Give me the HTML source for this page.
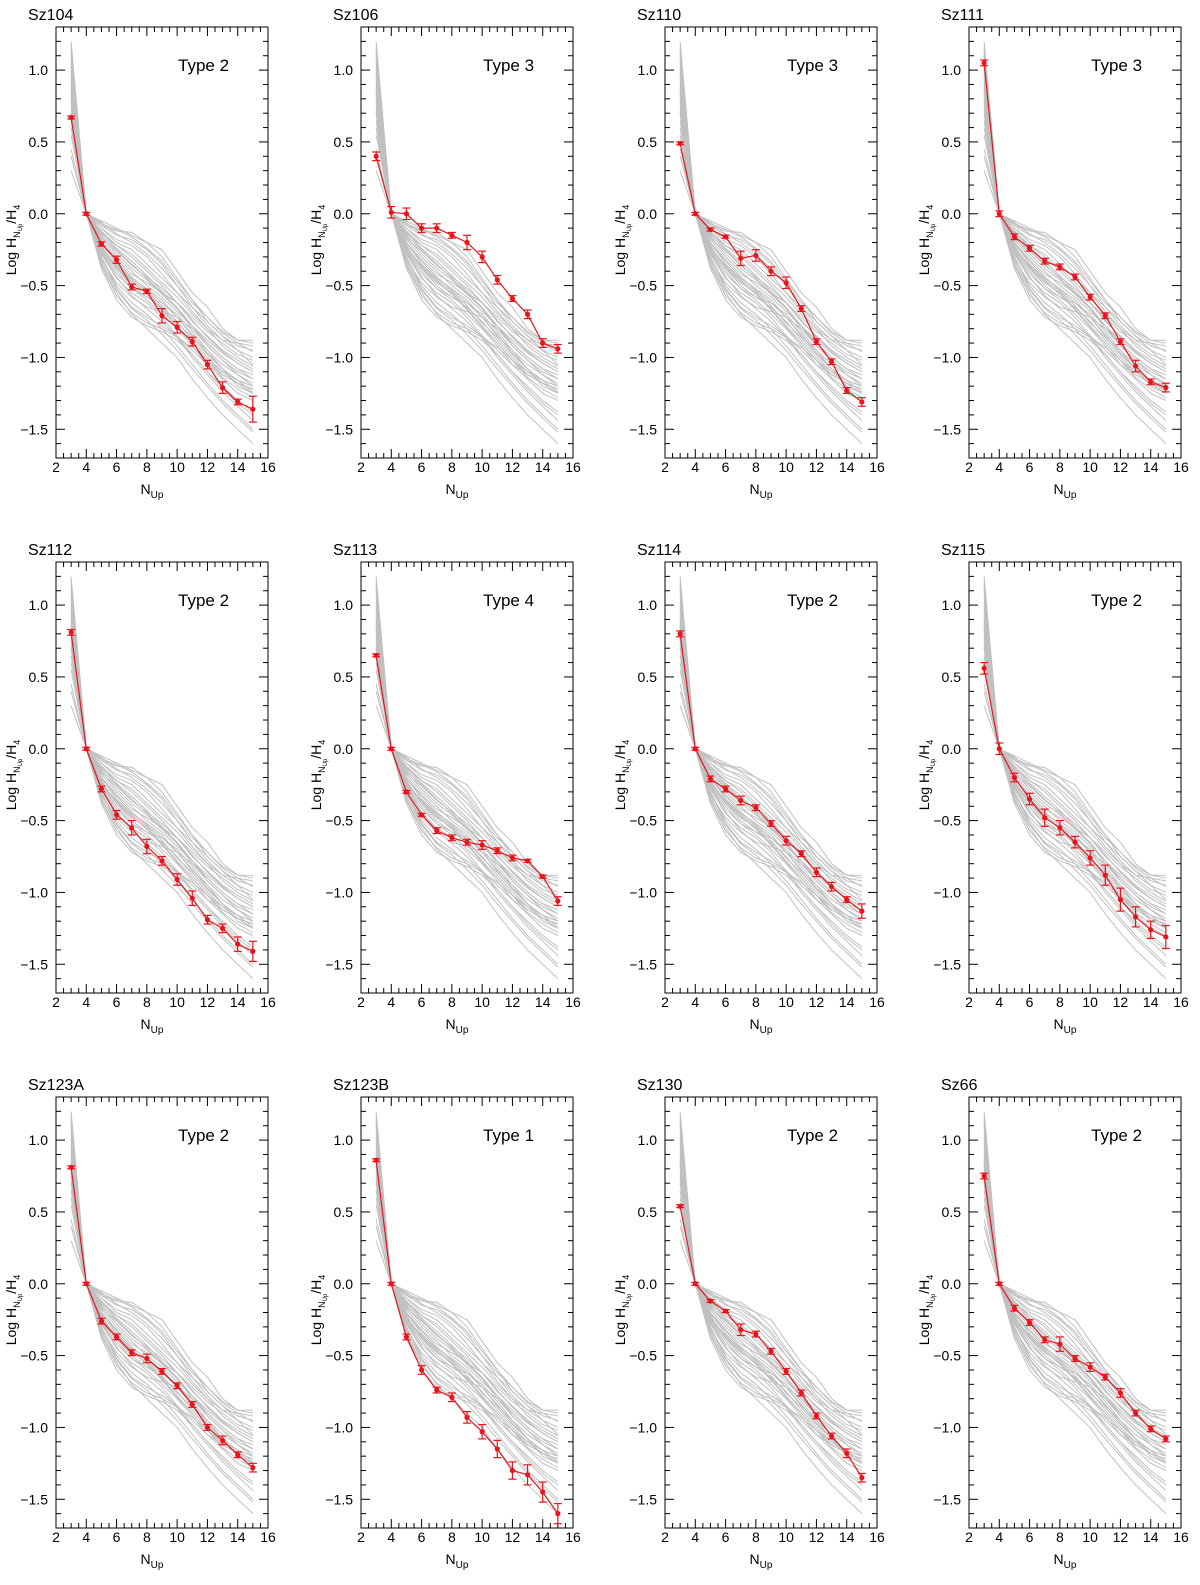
<!DOCTYPE html>
<html><head><meta charset="utf-8"><style>
html,body{margin:0;padding:0;background:#fff;}
svg{display:block;font-family:"Liberation Sans",Arial,sans-serif;}
</style></head><body>
<svg id="fig" width="1200" height="1585" viewBox="0 0 1200 1585" xmlns="http://www.w3.org/2000/svg"></svg>
<script>
// ---- data ----
const nUp = [3,4,5,6,7,8,9,10,11,12,13,14,15];
const xTickLabels = ["2","4","6","8","10","12","14","16"];
const yTickValues = [1.0,0.5,0.0,-0.5,-1.0,-1.5];
const yTickLabels = ["1.0","0.5","0.0","\u22120.5","\u22121.0","\u22121.5"];
const panelNames = ["Sz104","Sz106","Sz110","Sz111","Sz112","Sz113","Sz114","Sz115","Sz123A","Sz123B","Sz130","Sz66"];
const panelTypes = ["Type 2","Type 3","Type 3","Type 3","Type 2","Type 4","Type 2","Type 2","Type 2","Type 1","Type 2","Type 2"];
const sz104 = [0.67,0,-0.21,-0.32,-0.51,-0.54,-0.71,-0.79,-0.89,-1.05,-1.21,-1.31,-1.36];
const sz104Err = [0.01,0.01,0.015,0.025,0.02,0.015,0.05,0.04,0.03,0.03,0.04,0.02,0.09];
const sz106 = [0.40,0.01,0.0,-0.10,-0.10,-0.15,-0.20,-0.30,-0.46,-0.59,-0.70,-0.90,-0.94];
const sz106Err = [0.03,0.04,0.04,0.03,0.03,0.02,0.05,0.04,0.03,0.02,0.03,0.03,0.03];
const sz110 = [0.49,0,-0.11,-0.16,-0.31,-0.29,-0.40,-0.48,-0.66,-0.89,-1.03,-1.23,-1.31];
const sz110Err = [0.01,0.01,0.01,0.01,0.05,0.04,0.03,0.04,0.02,0.02,0.02,0.02,0.03];
const sz111 = [1.05,0,-0.16,-0.24,-0.33,-0.37,-0.44,-0.58,-0.71,-0.89,-1.06,-1.17,-1.21];
const sz111Err = [0.02,0.02,0.02,0.02,0.02,0.02,0.02,0.02,0.02,0.02,0.04,0.02,0.03];
const sz112 = [0.81,0,-0.28,-0.46,-0.55,-0.68,-0.78,-0.91,-1.04,-1.19,-1.25,-1.36,-1.41];
const sz112Err = [0.02,0.01,0.02,0.03,0.05,0.05,0.03,0.04,0.05,0.03,0.03,0.05,0.07];
const sz113 = [0.65,0,-0.30,-0.46,-0.57,-0.62,-0.65,-0.67,-0.71,-0.76,-0.78,-0.89,-1.06];
const sz113Err = [0.01,0.01,0.01,0.01,0.02,0.02,0.02,0.03,0.02,0.02,0.01,0.01,0.03];
const sz114 = [0.80,0,-0.21,-0.28,-0.36,-0.41,-0.52,-0.64,-0.73,-0.86,-0.96,-1.05,-1.13];
const sz114Err = [0.02,0.01,0.02,0.02,0.03,0.02,0.02,0.03,0.02,0.03,0.03,0.02,0.05];
const sz115 = [0.56,0,-0.20,-0.35,-0.48,-0.55,-0.65,-0.76,-0.88,-1.05,-1.17,-1.26,-1.31];
const sz115Err = [0.04,0.04,0.03,0.04,0.06,0.05,0.04,0.05,0.07,0.08,0.07,0.06,0.08];
const sz123A = [0.81,0,-0.26,-0.37,-0.48,-0.52,-0.61,-0.71,-0.84,-1.00,-1.09,-1.19,-1.28];
const sz123AErr = [0.01,0.01,0.02,0.02,0.02,0.03,0.02,0.02,0.02,0.02,0.03,0.02,0.03];
const sz123B = [0.86,0,-0.37,-0.60,-0.74,-0.79,-0.93,-1.03,-1.15,-1.30,-1.33,-1.45,-1.60];
const sz123BErr = [0.01,0.01,0.02,0.03,0.02,0.03,0.04,0.05,0.06,0.06,0.07,0.07,0.07];
const sz130 = [0.54,0,-0.12,-0.19,-0.32,-0.35,-0.47,-0.61,-0.76,-0.92,-1.06,-1.18,-1.35];
const sz130Err = [0.01,0.01,0.01,0.01,0.04,0.02,0.02,0.02,0.02,0.02,0.02,0.03,0.03];
const sz66 = [0.75,0,-0.17,-0.27,-0.39,-0.42,-0.52,-0.58,-0.65,-0.76,-0.90,-1.01,-1.08];
const sz66Err = [0.02,0.01,0.02,0.02,0.02,0.05,0.02,0.03,0.02,0.03,0.02,0.02,0.02];
const panelValues = [sz104,sz106,sz110,sz111,sz112,sz113,sz114,sz115,sz123A,sz123B,sz130,sz66];
const panelErrors = [sz104Err,sz106Err,sz110Err,sz111Err,sz112Err,sz113Err,sz114Err,sz115Err,sz123AErr,sz123BErr,sz130Err,sz66Err];
// model (gray) curves, same in every panel
const modelCurves = [
 [1.20,0,-0.05,-0.10,-0.15,-0.20,-0.30,-0.45,-0.60,-0.75,-0.85,-0.95,-1.05],
 [1.15,0,-0.08,-0.12,-0.13,-0.20,-0.25,-0.40,-0.55,-0.65,-0.80,-0.88,-0.88],
 [1.10,0,-0.10,-0.20,-0.25,-0.35,-0.45,-0.55,-0.65,-0.75,-0.85,-0.92,-0.95],
 [1.05,0,-0.12,-0.22,-0.30,-0.40,-0.50,-0.62,-0.72,-0.82,-0.90,-0.98,-1.02],
 [1.00,0,-0.15,-0.25,-0.35,-0.45,-0.55,-0.62,-0.75,-0.85,-0.95,-1.02,-1.08],
 [0.95,0,-0.18,-0.30,-0.40,-0.50,-0.58,-0.68,-0.78,-0.90,-1.00,-1.08,-1.12],
 [0.90,0,-0.20,-0.35,-0.45,-0.52,-0.60,-0.72,-0.85,-0.95,-1.05,-1.12,-1.18],
 [0.85,0,-0.22,-0.38,-0.50,-0.58,-0.65,-0.75,-0.88,-1.00,-1.10,-1.18,-1.22],
 [0.80,0,-0.25,-0.40,-0.52,-0.60,-0.70,-0.80,-0.92,-1.05,-1.15,-1.25,-1.30],
 [0.75,0,-0.28,-0.45,-0.55,-0.62,-0.72,-0.85,-0.98,-1.10,-1.20,-1.30,-1.38],
 [0.70,0,-0.30,-0.50,-0.62,-0.70,-0.80,-0.92,-1.05,-1.18,-1.30,-1.40,-1.50],
 [0.65,0,-0.35,-0.55,-0.70,-0.80,-0.90,-1.00,-1.15,-1.28,-1.40,-1.50,-1.60],
 [0.60,0,-0.32,-0.48,-0.58,-0.65,-0.68,-0.72,-0.80,-0.90,-1.00,-1.08,-1.15],
 [1.12,0,-0.08,-0.15,-0.18,-0.25,-0.35,-0.50,-0.65,-0.78,-0.88,-0.90,-0.92],
 [0.98,0,-0.14,-0.22,-0.28,-0.38,-0.48,-0.58,-0.70,-0.80,-0.88,-0.95,-1.00],
 [0.88,0,-0.20,-0.32,-0.42,-0.48,-0.55,-0.65,-0.78,-0.92,-1.02,-1.10,-1.15],
 [0.78,0,-0.26,-0.42,-0.52,-0.58,-0.62,-0.70,-0.82,-0.95,-1.08,-1.20,-1.25],
 [0.45,0,-0.38,-0.60,-0.72,-0.78,-0.82,-0.88,-0.98,-1.10,-1.22,-1.32,-1.40],
 [1.08,0,-0.10,-0.18,-0.22,-0.30,-0.42,-0.55,-0.68,-0.80,-0.92,-1.00,-1.06],
 [0.92,0,-0.16,-0.28,-0.38,-0.46,-0.56,-0.66,-0.80,-0.92,-1.02,-1.12,-1.20],
 [0.70,0,-0.24,-0.38,-0.48,-0.55,-0.66,-0.78,-0.90,-1.02,-1.12,-1.18,-1.25],
 [0.30,0,-0.30,-0.52,-0.65,-0.72,-0.78,-0.85,-0.95,-1.05,-1.12,-1.18,-1.22],
 [1.18,0,-0.06,-0.14,-0.20,-0.28,-0.38,-0.50,-0.62,-0.72,-0.82,-0.88,-0.90],
 [0.82,0,-0.24,-0.36,-0.46,-0.54,-0.64,-0.76,-0.86,-0.98,-1.08,-1.16,-1.20],
 [1.02,0,-0.13,-0.24,-0.33,-0.43,-0.54,-0.66,-0.78,-0.88,-0.97,-1.04,-1.10],
 [0.86,0,-0.21,-0.33,-0.44,-0.53,-0.62,-0.72,-0.84,-0.97,-1.08,-1.16,-1.24],
 [0.72,0,-0.27,-0.44,-0.57,-0.66,-0.75,-0.86,-1.00,-1.12,-1.24,-1.34,-1.44],
 [0.55,0,-0.33,-0.53,-0.66,-0.74,-0.84,-0.95,-1.08,-1.20,-1.32,-1.42,-1.52],
 [1.14,0,-0.07,-0.11,-0.16,-0.24,-0.33,-0.47,-0.60,-0.72,-0.83,-0.90,-0.96],
 [0.94,0,-0.17,-0.26,-0.36,-0.44,-0.52,-0.62,-0.74,-0.86,-0.96,-1.04,-1.10],
 [0.83,0,-0.23,-0.37,-0.47,-0.56,-0.67,-0.79,-0.90,-1.02,-1.14,-1.22,-1.28],
 [0.40,0,-0.36,-0.57,-0.69,-0.76,-0.80,-0.86,-0.93,-1.02,-1.10,-1.16,-1.20]
];
// ---- drawing ----
const NS="http://www.w3.org/2000/svg";
const svg=document.getElementById('fig');
function mk(tag,attrs,parent){const e=document.createElementNS(NS,tag);for(const k in attrs)e.setAttribute(k,attrs[k]);parent.appendChild(e);return e;}
const colOff=[0,305,609,913], rowOff=[0,535,1070];
const L=56,R=268,T=27,B=458, XMIN=2,XMAX=16, YMAX=1.30, YMIN=-1.70;
panelNames.forEach((name,i)=>{
  const ox=colOff[i%4], oy=rowOff[Math.floor(i/4)];
  const xs=v=>ox+L+(v-XMIN)/(XMAX-XMIN)*(R-L);
  const ys=v=>oy+T+(YMAX-v)/(YMAX-YMIN)*(B-T);
  const g=mk('g',{},svg);
  
  
  const title=mk('text',{x:ox+28,y:oy+20,'font-size':16,fill:'#000'},g);title.textContent=name;
  
  
  const mg=mk('g',{fill:'none',stroke:'#c0c0c0','stroke-width':1},g);
  
  
  modelCurves.forEach(c=>{
    const p=mk('polyline',{points:c.map((v,j)=>xs(nUp[j]).toFixed(1)+','+ys(v).toFixed(1)).join(' ')},mg);
    
    
  });
  const fg=mk('g',{stroke:'#000','stroke-width':1,fill:'none'},g);
  
  
  mk('rect',{x:ox+L,y:oy+T,width:R-L,height:B-T},fg);
  for(let k=0;k<=28;k++){const v=2+k*0.5,x=xs(v),len=(k%4===0)?9:5;
    mk('line',{x1:x,y1:oy+B,x2:x,y2:oy+B-len},fg);mk('line',{x1:x,y1:oy+T,x2:x,y2:oy+T+len},fg);}
  for(let k=-16;k<=12;k++){const v=k/10,y=ys(v),len=(k%5===0)?9:5;
    mk('line',{x1:ox+L,y1:y,x2:ox+L+len,y2:y},fg);mk('line',{x1:ox+R,y1:y,x2:ox+R-len,y2:y},fg);}
  xTickLabels.forEach(t=>{const e=mk('text',{x:xs(+t),y:oy+B+14,'font-size':14,'text-anchor':'middle'},g);e.textContent=t;
    
    });
  yTickValues.forEach((v,j)=>{const e=mk('text',{x:ox+L-8,y:ys(v)+5,'font-size':14,'text-anchor':'end'},g);e.textContent=yTickLabels[j];
    
    });
  const xt=mk('text',{x:ox+152,y:oy+B+36,'font-size':14,'text-anchor':'middle'},g);
  xt.innerHTML='N<tspan font-size="10" dy="4">Up</tspan>';
  
  
  const yt=mk('text',{transform:`translate(${ox+16},${oy+240}) rotate(-90)`,'font-size':14,'text-anchor':'middle'},g);
  yt.innerHTML='Log H<tspan font-size="9" dy="4">N</tspan><tspan font-size="6" dy="2">Up</tspan><tspan dy="-6">/H</tspan><tspan font-size="9" dy="4">4</tspan>';
  
  
  const tt=mk('text',{x:ox+178,y:oy+71,'font-size':17},g);tt.textContent=panelTypes[i];
  
  
  const vals=panelValues[i], errs=panelErrors[i];
  const rg=mk('g',{stroke:'#e8141b',fill:'#e8141b','stroke-width':1.2},g);
  
  
  const pl=mk('polyline',{fill:'none',points:vals.map((v,j)=>xs(nUp[j]).toFixed(1)+','+ys(v).toFixed(1)).join(' ')},rg);
  
  
  vals.forEach((v,j)=>{
    const x=xs(nUp[j]),y1=ys(v+errs[j]),y2=ys(v-errs[j]);
    const eb=mk('g',{},rg);
    
    
    mk('line',{x1:x,y1:y1,x2:x,y2:y2},eb);
    mk('line',{x1:x-4,y1:y1,x2:x+4,y2:y1},eb);
    mk('line',{x1:x-4,y1:y2,x2:x+4,y2:y2},eb);
    const c=mk('circle',{cx:x,cy:ys(v),r:2},rg);
    
    
  });
});
</script>
</body></html>
